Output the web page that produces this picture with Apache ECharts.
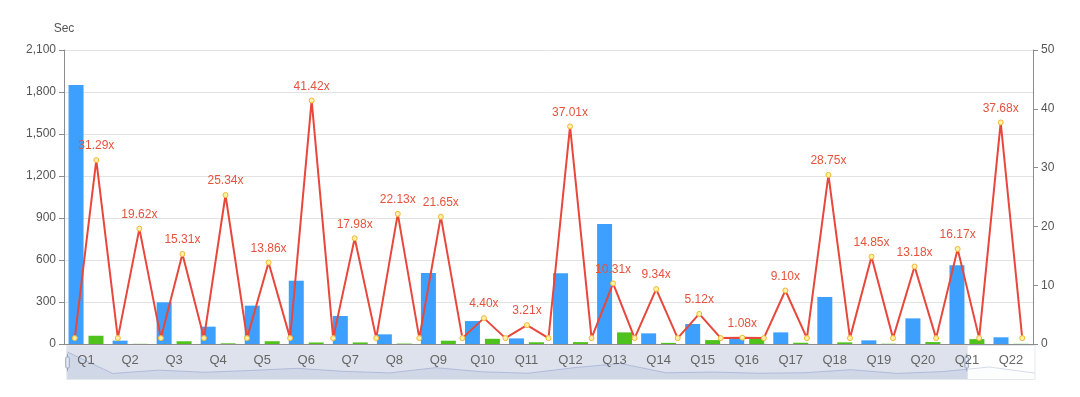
<!DOCTYPE html>
<html>
<head>
<meta charset="utf-8">
<script src="https://cdn.jsdelivr.net/npm/echarts@6/dist/echarts.min.js"></script>
<style>
  html, body { margin: 0; padding: 0; background: #fff; }
  #chart { width: 1080px; height: 397px; }
</style>
</head>
<body>
<div id="chart"></div>
<script>
// query names
var categories = ['Q1', 'Q2', 'Q3', 'Q4', 'Q5', 'Q6', 'Q7', 'Q8', 'Q9', 'Q10', 'Q11',
  'Q12', 'Q13', 'Q14', 'Q15', 'Q16', 'Q17', 'Q18', 'Q19', 'Q20', 'Q21', 'Q22']
// seconds, blue bars
var baseSec = [1850, 24, 298, 124, 274, 452, 200, 69, 507, 164, 40,
  505, 857, 76, 143, 40, 83, 336, 26, 183, 562, 48]
// seconds, green bars
var fastSec = [59, 1.2, 19.5, 4.9, 19.8, 10.9, 11.1, 3.1, 23.4, 37.3, 12.5,
  13.6, 83, 8.1, 27.9, 37, 9.1, 11.7, 1.8, 13.9, 34.8, 1.3]
// speedup, red line peaks
var speedup = [31.29, 19.62, 15.31, 25.34, 13.86, 41.42, 17.98, 22.13, 21.65, 4.40, 3.21,
  37.01, 10.31, 9.34, 5.12, 1.08, 9.10, 28.75, 14.85, 13.18, 16.17, 37.68]
// speedup, red line lows (one before each peak and one after the last)
var baseline = [1, 1, 1, 1, 1, 1, 1, 1, 1, 1, 1, 1,
  1, 1, 1, 1, 1, 1, 1, 1, 1, 1, 1]

// line sits on a finer axis: low, peak, low, peak ... low
var lineCats = []
var lineData = []
for (var i = 0; i < categories.length; i++) {
  lineCats.push('b' + i, categories[i])
  lineData.push(baseline[i], speedup[i])
}
lineCats.push('b' + categories.length)
lineData.push(baseline[categories.length])

var myChart = echarts.init(document.getElementById('chart'))

var option = {
  animation: false,
  textStyle: { fontFamily: 'Liberation Sans, Arial, sans-serif' },
  grid: { left: 64, right: 47, top: 50, bottom: 53 },
  xAxis: [
    {
      type: 'category',
      data: categories,
      axisLine: { lineStyle: { color: '#8c8c8c' } },
      axisTick: { lineStyle: { color: '#8c8c8c' } },
      axisLabel: { color: '#666', fontSize: 13, margin: 10 },
      z: 10
    },
    {
      type: 'category',
      data: lineCats,
      show: false
    },
    {
      type: 'category',
      data: categories,
      show: false
    }
  ],
  yAxis: [
    {
      type: 'value',
      name: 'Sec',
      nameTextStyle: { color: '#555', fontSize: 12 },
      min: 0,
      max: 2100,
      interval: 300,
      axisLine: { show: true, lineStyle: { color: '#8c8c8c' } },
      axisTick: { show: true, lineStyle: { color: '#8c8c8c' } },
      axisLabel: { color: '#555', fontSize: 12 },
      splitLine: { lineStyle: { color: '#e3e3e3' } }
    },
    {
      type: 'value',
      position: 'right',
      min: 0,
      max: 50,
      interval: 10,
      axisLine: { show: true, lineStyle: { color: '#8c8c8c' } },
      axisTick: { show: true, lineStyle: { color: '#8c8c8c' } },
      axisLabel: { color: '#555', fontSize: 12 },
      splitLine: { show: false }
    }
  ],
  dataZoom: [
    {
      type: 'slider',
      xAxisIndex: 2,
      start: 0,
      end: 93,
      left: 64,
      right: 47,
      bottom: 17,
      height: 35,
      showDetail: false,
      moveHandleSize: 0,
      borderColor: '#e4e8ef',
      fillerColor: 'rgba(150,165,195,0.32)',
      handleSize: '50%',
      handleStyle: { color: '#e4e9f2', borderColor: '#97a5bf', borderWidth: 1 },
      dataBackground: {
        lineStyle: { color: 'rgba(140,155,185,0.35)', width: 1 },
        areaStyle: { color: 'rgba(140,155,185,0.12)' }
      }
    }
  ],
  series: [
    {
      name: 'base',
      type: 'bar',
      xAxisIndex: 0,
      yAxisIndex: 0,
      barWidth: 15,
      barGap: '33%',
      itemStyle: { color: '#3da0ff' },
      data: baseSec
    },
    {
      name: 'fast',
      type: 'bar',
      xAxisIndex: 0,
      yAxisIndex: 0,
      barWidth: 15,
      itemStyle: { color: '#4fc21c' },
      data: fastSec
    },
    {
      name: 'speedup',
      type: 'line',
      xAxisIndex: 1,
      yAxisIndex: 1,
      symbol: 'circle',
      symbolSize: 5,
      lineStyle: { color: '#e8473c', width: 2 },
      itemStyle: { color: '#fff1a8', borderColor: '#f2b630', borderWidth: 1 },
      label: {
        show: true,
        position: 'top',
        color: '#e5533d',
        fontSize: 12,
        formatter: function (p) {
          return p.dataIndex % 2 ? p.value.toFixed(2) + 'x' : ''
        }
      },
      z: 3,
      data: lineData
    },
    {
      // only feeds the slider shadow
      name: 'shadow',
      type: 'bar',
      xAxisIndex: 2,
      yAxisIndex: 0,
      silent: true,
      itemStyle: { opacity: 0 },
      data: baseSec
    }
  ]
}

myChart.setOption(option)
</script>
</body>
</html>
